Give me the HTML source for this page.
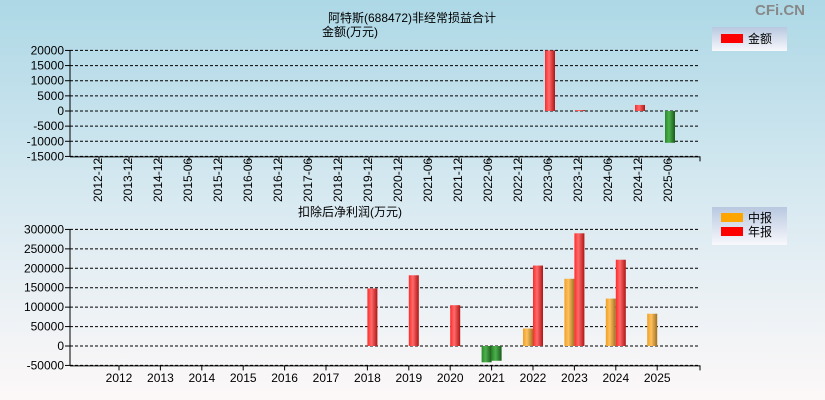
<!DOCTYPE html>
<html><head><meta charset="utf-8"><style>
body{margin:0;width:825px;height:400px;overflow:hidden;background:linear-gradient(#add8e6,#dcebf2 55%,#fdf8f8);font-family:"Liberation Sans","Noto Sans CJK SC",sans-serif}
svg{position:absolute;left:0;top:0}
text{font-family:"Liberation Sans","Noto Sans CJK SC",sans-serif;font-size:12px;fill:#000}
</style></head><body>
<svg width="825" height="400">
<defs>
<linearGradient id="gr" x1="0" x2="1"><stop offset="0" stop-color="#ff2a2a"/><stop offset=".4" stop-color="#ff6a6a"/><stop offset="1" stop-color="#b01515"/></linearGradient>
<linearGradient id="gg" x1="0" x2="1"><stop offset="0" stop-color="#2a8a2a"/><stop offset=".4" stop-color="#4cb04c"/><stop offset="1" stop-color="#1a5a1a"/></linearGradient>
<linearGradient id="go" x1="0" x2="1"><stop offset="0" stop-color="#f0a020"/><stop offset=".4" stop-color="#ffc060"/><stop offset="1" stop-color="#a07020"/></linearGradient>
<linearGradient id="lg" x1="0" y1="0" x2="0" y2="1"><stop offset="0" stop-color="#b8c8e0"/><stop offset="1" stop-color="#f8f8fc"/></linearGradient>
</defs>
<text x="805" y="15" text-anchor="end" style="font-size:15px;fill:#888;font-weight:bold">CFi.CN</text>
<text x="412" y="22" text-anchor="middle">阿特斯(688472)非经常损益合计</text>
<text x="350" y="36" text-anchor="middle">金额(万元)</text>
<text x="350" y="216" text-anchor="middle">扣除后净利润(万元)</text>
<g id="top"></g>
<g id="bot"></g>
<g>
<rect x="712" y="27" width="75" height="24" fill="url(#lg)"/>
<rect x="721" y="34" width="22" height="9" fill="#f00"/>
<text x="748" y="43">金额</text>
</g>
<g>
<rect x="712" y="207" width="75" height="38" fill="url(#lg)"/>
<rect x="721" y="213" width="22" height="9" fill="#ffa500"/>
<text x="748" y="222">中报</text>
<rect x="721" y="227" width="22" height="9" fill="#f00"/>
<text x="748" y="236">年报</text>
</g>
</svg>
<script>
const topCats=["2012-12","2013-12","2014-12","2015-06","2015-12","2016-06","2016-12","2017-06","2018-12","2019-12","2020-12","2021-06","2021-12","2022-06","2022-12","2023-06","2023-12","2024-06","2024-12","2025-06"];
const topVals=[0,0,0,0,0,0,0,0,0,0,0,0,0,0,0,20000,300,0,2000,-10500];
const topTicks=[20000,15000,10000,5000,0,-5000,-10000,-15000];
const botCats=["2012","2013","2014","2015","2016","2017","2018","2019","2020","2021","2022","2023","2024","2025"];
const botInterim=[0,0,0,0,0,0,0,0,0,-42000,45000,173000,122000,83000];
const botAnnual=[0,0,0,0,0,0,148000,182000,105000,-38000,207000,290000,222000,null];
const botTicks=[300000,250000,200000,150000,100000,50000,0,-50000];
const NS="http://www.w3.org/2000/svg";
function mk(p,t,a){const e=document.createElementNS(NS,t);for(const k in a)e.setAttribute(k,a[k]);p.appendChild(e);return e;}
const X0=70,X1=700;
const tg=document.getElementById('top');
const ty=v=>111+(0-v)*(106/35000);
const tx=i=>98+30*i;
topTicks.forEach(t=>{
 const l=mk(tg,'line',{x1:X0,x2:X1,y1:ty(t),y2:ty(t),stroke:'#000','stroke-dasharray':'3,2'});
 
 mk(tg,'line',{x1:X0-5,x2:X0,y1:ty(t),y2:ty(t),stroke:'#000'});
 const tt=mk(tg,'text',{x:X0-6,y:ty(t)+4,'text-anchor':'end'});tt.textContent=t;
 
});
mk(tg,'line',{x1:X0,x2:X0,y1:ty(20000),y2:ty(-15000),stroke:'#000'});
mk(tg,'line',{x1:X0,x2:X1,y1:ty(-15000)+0.5,y2:ty(-15000)+0.5,stroke:'#000'});
mk(tg,'line',{x1:X1,x2:X1,y1:ty(-15000),y2:ty(-15000)+5,stroke:'#000'});
topCats.forEach((c,i)=>{
 mk(tg,'line',{x1:tx(i)+1,x2:tx(i)+1,y1:ty(-15000),y2:ty(-15000)+5,stroke:'#000'});
 const t=mk(tg,'text',{x:0,y:0,transform:`translate(${tx(i)+4},202) rotate(-90)`});t.textContent=c;
 
 const v=topVals[i];if(!v)return;
 const y=Math.min(ty(v),ty(0)),h=Math.abs(ty(v)-ty(0));
 const r=mk(tg,'rect',{x:tx(i)-3,y:y,width:10,height:Math.max(h,1),fill:v>0?'url(#gr)':'url(#gg)'});
 
});
const bg=document.getElementById('bot');
const by=v=>346+(0-v)*(136/350000);
const bx=i=>119+41.4*i;
botTicks.forEach(t=>{
 const l=mk(bg,'line',{x1:X0,x2:X1,y1:by(t),y2:by(t),stroke:'#000','stroke-dasharray':'3,2'});
 
 mk(bg,'line',{x1:X0-5,x2:X0,y1:by(t),y2:by(t),stroke:'#000'});
 const tt=mk(bg,'text',{x:X0-6,y:by(t)+4,'text-anchor':'end'});tt.textContent=t;
 
});
mk(bg,'line',{x1:X0,x2:X0,y1:by(300000),y2:by(-50000),stroke:'#000'});
mk(bg,'line',{x1:X0,x2:X1,y1:by(-50000)+0.5,y2:by(-50000)+0.5,stroke:'#000'});
mk(bg,'line',{x1:X1,x2:X1,y1:by(-50000),y2:by(-50000)+5,stroke:'#000'});
botCats.forEach((c,i)=>{
 mk(bg,'line',{x1:bx(i),x2:bx(i),y1:by(-50000),y2:by(-50000)+5,stroke:'#000'});
 const t=mk(bg,'text',{x:bx(i),y:382,'text-anchor':'middle'});t.textContent=c;
 
 [[botInterim[i],-10,'url(#go)','interim'],[botAnnual[i],0,'url(#gr)','annual']].forEach(([v,off,f,n])=>{
  if(!v)return;
  const y=Math.min(by(v),by(0)),h=Math.abs(by(v)-by(0));
  const r=mk(bg,'rect',{x:bx(i)+off,y:y,width:10,height:h,fill:v>0?f:'url(#gg)'});
  
 });
});
</script>
</body></html>
